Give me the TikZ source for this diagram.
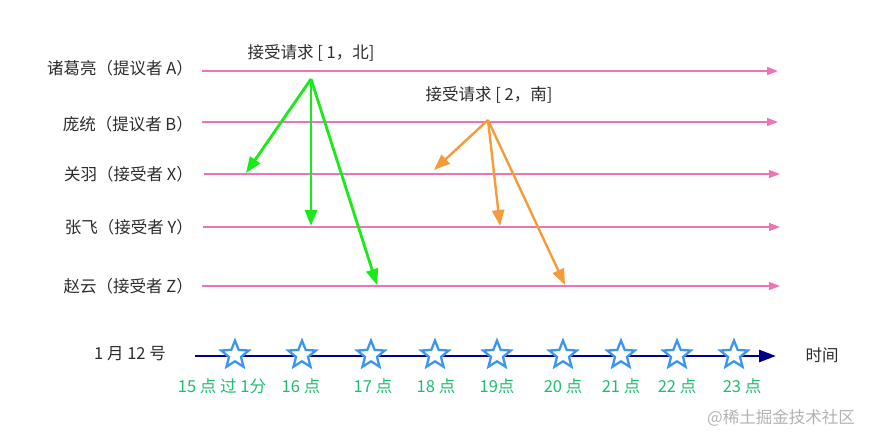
\documentclass[tikz,border=0pt]{standalone}
\usepackage{fontspec}
\setmainfont{Noto Sans CJK SC}
\usetikzlibrary{arrows.meta,shapes.geometric,positioning}

\definecolor{laneclr}{RGB}{240,115,185}
\definecolor{msgA}{RGB}{25,235,25}
\definecolor{msgB}{RGB}{245,155,55}
\definecolor{axisclr}{RGB}{0,0,140}
\definecolor{starclr}{RGB}{60,150,240}
\definecolor{hourclr}{RGB}{30,190,110}
\definecolor{txtclr}{RGB}{45,45,45}

\begin{document}
\begin{tikzpicture}[
      x=1pt,y=-1pt,
      font=\fontsize{16.5}{19}\selectfont,
      who/.style={anchor=east,inner sep=0,text=txtclr},
      lane/.style={draw=laneclr,line width=1.3,-{Triangle[length=11,width=8]}},
      msg/.style={line width=2.8,-{Triangle[length=16,width=12]}},
      tick/.style={star,star points=5,star point ratio=2.3,minimum size=29,
        inner sep=0,draw=starclr,fill=white,line width=2.3},
      hour/.style={text=hourclr,inner sep=0}
    ]
    \useasboundingbox (0,0) rectangle (878,446);
    % participants
    \node[who] (A) at (193,68)  {诸葛亮（提议者 A）};
    \node[who] (B) at (193,124) {庞统（提议者 B）};
    \node[who] (X) at (193,174) {关羽（接受者 X）};
    \node[who] (Y) at (193,227) {张飞（接受者 Y）};
    \node[who] (Z) at (193,286) {赵云（接受者 Z）};
    % lanes
    \coordinate (A0) at (202,71);  \coordinate (A1) at (778,71);
    \coordinate (B0) at (202,122); \coordinate (B1) at (778,122);
    \coordinate (X0) at (204,174); \coordinate (X1) at (780,174);
    \coordinate (Y0) at (203,227); \coordinate (Y1) at (780,227);
    \coordinate (Z0) at (202,286); \coordinate (Z1) at (780,286);
    \foreach \l in {A,B,X,Y,Z}
      \draw[lane] (\l0) -- (\l1);
    % accept requests
    \node[text=txtclr] (req1) at (311,53) {接受请求 [ 1，北]};
    \node[text=txtclr] (req2) at (489,95) {接受请求 [ 2，南]};
    \coordinate (p1) at (311,79);
    \coordinate (p1x) at (246,173);
    \coordinate (p1y) at (311,226);
    \coordinate (p1z) at (377,285);
    \coordinate (p2) at (488,120);
    \coordinate (p2x) at (434,170);
    \coordinate (p2y) at (500,226);
    \coordinate (p2z) at (565,285);
    \foreach \t in {x,y,z}{
      \draw[msg,draw=msgA,fill=msgA] (p1) -- (p1\t);
      \draw[msg,draw=msgB,fill=msgB,line width=2.4] (p2) -- (p2\t);
    }
    % time axis
    \node[text=txtclr] (day) at (130,354) {1 月 12 号};
    \node[text=txtclr] (time) at (822,355) {时间};
    \coordinate (t0) at (195,356);
    \coordinate (t1) at (776,356);
    \draw[draw=axisclr,fill=axisclr,line width=2.8,-{Triangle[length=17,width=12]}] (t0) -- (t1);
    \foreach \x/\lx/\txt [count=\i] in {235/222/15 点 过 1分,302/301/16 点,371/373/17 点,
        435/436/18 点,497/497/19点,563/563/20 点,621/621/21 点,677/677/22 点,734/742/23 点}{
      \node[tick] (s\i) at (\x,355) {};
      \node[hour] (h\i) at (\lx,386) {\txt};
    }
    % watermark
    \node[text=black!30,inner sep=0] (mark) at (781,418) {@稀土掘金技术社区};
  \end{tikzpicture}
\end{document}
